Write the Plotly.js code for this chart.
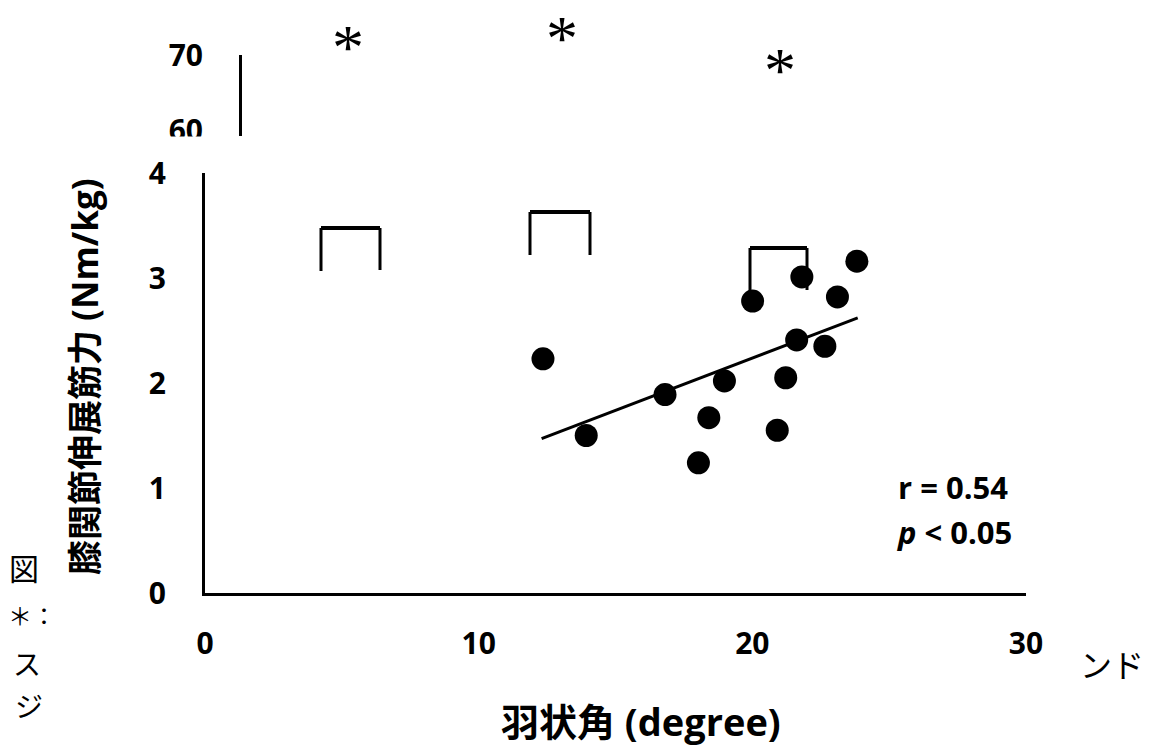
<!DOCTYPE html>
<html>
<head>
<meta charset="utf-8">
<script src="https://cdn.plot.ly/plotly-3.0.1.min.js"></script>
<style>html,body{margin:0;padding:0;background:#fff;}#chart{width:1151px;height:749px;}</style>
</head>
<body>
<div id="chart"></div>
<script>
// ---- data ----
const pennationAngle = [12.35, 13.93, 16.81, 18.98, 18.41, 18.03, 20.01, 21.81, 23.82, 23.11, 21.62, 22.65, 21.22, 20.91];
const kneeExtStrength = [2.23, 1.50, 1.89, 2.02, 1.67, 1.24, 2.78, 3.01, 3.16, 2.82, 2.41, 2.35, 2.05, 1.55];
const trendX = [12.3, 23.85];
const trendY = [1.47, 2.62];
const xTicks = [0, 10, 20, 30];
const yTicks = [0, 1, 2, 3, 4];
const fragTicks = [60, 70];
const xTitle = '羽状角 (degree)';
const yTitle = '膝関節伸展筋力 (Nm/kg)';
const statR = 'r = 0.54';
const statP = '<i>p</i> &lt; 0.05';

// ---- layout geometry (pixels) ----
const W = 1151, H = 749;
const L = 205, R = 1026, T = 40, B = 593;
const px = x => (x - L) / (R - L);
const py = y => (B - y) / (B - T);

const tickFont = {family: 'Open Sans, Liberation Sans, sans-serif', size: 30, color: '#000', weight: 'bold'};
const black = '#000';

const traces = [
  {x: pennationAngle, y: kneeExtStrength, type: 'scatter', mode: 'markers',
   marker: {color: black, size: 23}, xaxis: 'x', yaxis: 'y', hoverinfo: 'skip'},
  {x: trendX, y: trendY, type: 'scatter', mode: 'lines',
   line: {color: black, width: 3}, xaxis: 'x', yaxis: 'y', hoverinfo: 'skip'},
  {x: [0], y: [fragTicks[0]], type: 'scatter', mode: 'markers', marker: {opacity: 0},
   xaxis: 'x2', yaxis: 'y2', hoverinfo: 'skip'}
];

function bracket(x0, x1, yTop, yL, yR) {
  return [
    {type: 'line', xref: 'paper', yref: 'paper', x0: px(x0), x1: px(x0), y0: py(yTop), y1: py(yL), line: {color: black, width: 3}},
    {type: 'line', xref: 'paper', yref: 'paper', x0: px(x0), x1: px(x1), y0: py(yTop), y1: py(yTop), line: {color: black, width: 4}},
    {type: 'line', xref: 'paper', yref: 'paper', x0: px(x1), x1: px(x1), y0: py(yTop), y1: py(yR), line: {color: black, width: 3}}
  ];
}

const shapes = [].concat(
  bracket(321, 380, 228, 271, 270),
  bracket(530, 590, 212, 255, 255),
  bracket(750, 807, 248, 292, 290),
  [{type: 'rect', xref: 'paper', yref: 'paper', layer: 'above', x0: px(140), x1: px(220), y0: py(152), y1: py(136.5),
    fillcolor: '#fff', line: {width: 0}}]
);

function txt(text, x, y, size, opts) {
  return Object.assign({text: text, xref: 'paper', yref: 'paper', x: px(x), y: py(y), showarrow: false,
    xanchor: 'center', yanchor: 'middle',
    font: {family: 'Noto Sans CJK JP, sans-serif', size: size, color: black}}, opts || {});
}

const boldFont = (s) => ({family: 'Open Sans, Noto Sans CJK JP, sans-serif', size: s, color: black, weight: 'bold'});
const starFont = {family: 'Liberation Serif, serif', size: 64, color: black};

const annotations = [
  txt(yTitle, 84, 377, 35, {textangle: -90, font: boldFont(35)}),
  txt(xTitle, 641, 721, 38, {font: boldFont(38)}),
  txt('<b>' + statR + '</b>', 896, 487, 31, {xanchor: 'left', font: boldFont(31)}),
  txt('<b>' + statP + '</b>', 894, 532, 31, {xanchor: 'left', font: boldFont(31)}),
  txt('*', 348, 47.5, 64, {font: starFont}),
  txt('*', 562, 38.5, 64, {font: starFont}),
  txt('*', 780, 70.5, 64, {font: starFont}),
  txt('図', 24, 567, 30),
  txt('＊：', 6, 614, 24, {xanchor: 'left'}),
  txt('ス', 27, 663, 28),
  txt('ジ', 29, 705, 28),
  txt('ンド', 1112, 663, 32)
];

const layout = {
  width: W, height: H,
  margin: {l: L, r: W - R, t: T, b: H - B, pad: 0},
  paper_bgcolor: '#fff', plot_bgcolor: 'rgba(0,0,0,0)',
  showlegend: false,
  xaxis: {domain: [0, 1], range: [0, 30], tickvals: xTicks, ticks: '', showgrid: false, zeroline: false,
          showline: true, linecolor: black, linewidth: 3, tickfont: tickFont, ticklabelstandoff: 22,
          anchor: 'y', fixedrange: true},
  yaxis: {domain: [0, py(173)], range: [0, 4], tickvals: yTicks, ticks: '', showgrid: false, zeroline: false,
          showline: true, linecolor: black, linewidth: 3, tickfont: tickFont, ticklabelstandoff: 30,
          anchor: 'x', fixedrange: true},
  xaxis2: {domain: [px(242), px(260)], range: [0, 1], visible: false, anchor: 'y2', fixedrange: true},
  yaxis2: {domain: [py(136), py(55)], range: [59.2, 70], tickvals: fragTicks, ticks: '', showgrid: false,
           zeroline: false, showline: true, linecolor: black, linewidth: 3, tickfont: tickFont,
           ticklabelstandoff: 30, anchor: 'x2', fixedrange: true},
  shapes: shapes,
  annotations: annotations
};

Plotly.newPlot('chart', traces, layout, {staticPlot: true, displayModeBar: false});
</script>
</body>
</html>
